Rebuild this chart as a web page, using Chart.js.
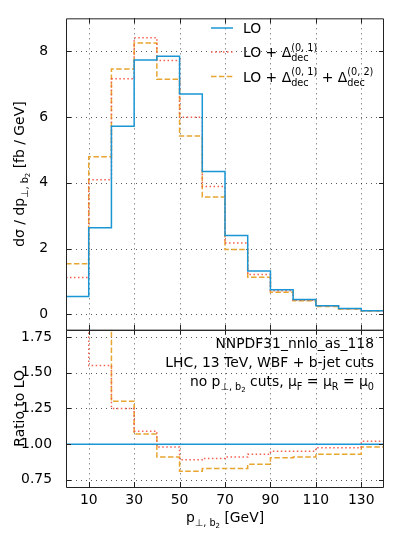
<!DOCTYPE html>
<html>
<head>
<meta charset="utf-8">
<script src="https://cdn.jsdelivr.net/npm/chart.js@4.4.1/dist/chart.umd.min.js"></script>
<style>
  html, body { margin: 0; padding: 0; background: #fff; }
  #wrap { width: 394px; height: 536px; }
</style>
</head>
<body>
<div id="wrap"><canvas id="c" width="394" height="536"></canvas></div>
<script>
// bin edges and tick positions
const binEdges = [0, 10, 20, 30, 40, 50, 60, 70, 80, 90, 100, 110, 120, 130, 140];
const xTicks = [10, 30, 50, 70, 90, 110, 130];
const yTicks = [0, 2, 4, 6, 8];
const ratioTicks = [0.75, 1.00, 1.25, 1.50, 1.75];

// dsigma/dp per bin [fb/GeV]
const lo     = [0.54, 2.63, 5.72, 7.73, 7.85, 6.70, 4.34, 2.40, 1.32, 0.75, 0.45, 0.26, 0.18, 0.11];
const lo01   = [1.12, 4.09, 7.16, 8.41, 7.72, 5.99, 3.89, 2.17, 1.21, 0.72, 0.43, 0.26, 0.17, 0.11];
const lo0102 = [1.54, 4.79, 7.46, 8.25, 7.15, 5.42, 3.57, 1.97, 1.13, 0.67, 0.41, 0.24, 0.16, 0.10];

// ratio to LO
const ratioLO   = [1, 1, 1, 1, 1, 1, 1, 1, 1, 1, 1, 1, 1, 1];
const ratio01   = [2.07, 1.55, 1.25, 1.09, 0.98, 0.89, 0.90, 0.91, 0.93, 0.95, 0.95, 0.975, 0.975, 1.02];
const ratio0102 = [2.85, 1.82, 1.30, 1.07, 0.91, 0.81, 0.83, 0.83, 0.86, 0.905, 0.91, 0.93, 0.93, 0.98];

const BLUE = '#1a96d5';
const RED = '#f4604f';
const ORANGE = '#e8a530';
const FONT = '"DejaVu Sans", sans-serif';
const BASE = 13.9;

function f(s) { return (BASE * s).toFixed(2) + 'px ' + FONT; }

// turn bin values into step points
function steps(vals) {
  return binEdges.map((x, i) => ({ x: x, y: vals[Math.min(i, vals.length - 1)] }));
}

function measure(ctx, runs) {
  let w = 0, held = 0;
  for (const r of runs) {
    ctx.font = f(r.s || 1);
    const rw = ctx.measureText(r.t).width;
    if (r.hold) { held = rw; continue; }
    w += Math.max(rw, held); held = 0;
  }
  return w;
}

function drawRuns(ctx, runs, x, y, align) {
  const w = measure(ctx, runs);
  let cx = align === 'right' ? x - w : align === 'center' ? x - w / 2 : x;
  let held = 0;
  ctx.textAlign = 'left';
  ctx.textBaseline = 'alphabetic';
  for (const r of runs) {
    ctx.font = f(r.s || 1);
    const rw = ctx.measureText(r.t).width;
    ctx.fillText(r.t, cx, y + (r.dy || 0));
    if (r.hold) { held = rw; continue; }
    cx += Math.max(rw, held); held = 0;
  }
}

const pb2 = [{ t: 'p' }, { t: '\u22a5, b', s: 0.7, dy: 3.5 }, { t: '2', s: 0.5, dy: 5.5 }];
const delta = (n) => [{ t: '\u0394' }, { t: 'dec', s: 0.7, dy: 4, hold: true }, { t: '(0, ' + n + ')', s: 0.7, dy: -6.5 }];

const legendRows = [
  { color: BLUE, dash: [], runs: [{ t: 'LO' }] },
  { color: RED, dash: [1.5, 2.5], runs: [{ t: 'LO + ' }].concat(delta(1)) },
  { color: ORANGE, dash: [5.5, 2.4], runs: [{ t: 'LO + ' }].concat(delta(1), [{ t: ' + ' }], delta(2)) }
];

const infoLines = [
  [{ t: 'NNPDF31_nnlo_as_118' }],
  [{ t: 'LHC, 13 TeV, WBF + b-jet cuts' }],
  [{ t: 'no ' }].concat(pb2, [
    { t: ' cuts, \u03bc' }, { t: 'F', s: 0.7, dy: 3.5 },
    { t: ' = \u03bc' }, { t: 'R', s: 0.7, dy: 3.5 },
    { t: ' = \u03bc' }, { t: '0', s: 0.7, dy: 3.5 }
  ])
];

const yTitle = [{ t: 'd\u03c3 / dp' }, { t: '\u22a5, b', s: 0.7, dy: 3.5 }, { t: '2', s: 0.5, dy: 5.5 }, { t: ' [fb / GeV]' }];
const xTitle = pb2.concat([{ t: ' [GeV]' }]);

// clip each dataset to its own panel
const panelClip = {
  id: 'panelClip',
  beforeDatasetDraw(chart, args) {
    const ctx = chart.ctx, xs = args.meta.xScale, ys = args.meta.yScale;
    ctx.save();
    ctx.beginPath();
    ctx.rect(xs.left, ys.top, xs.right - xs.left, ys.bottom - ys.top);
    ctx.clip();
  },
  afterDatasetDraw(chart) {
    chart.ctx.restore();
  }
};

const decor = {
  id: 'decor',
  beforeDraw(chart) {
    const ctx = chart.ctx;
    ctx.save();
    ctx.fillStyle = '#fff';
    ctx.fillRect(0, 0, chart.width, chart.height);
    ctx.restore();
  },
  beforeDatasetsDraw(chart) {
    const ctx = chart.ctx, x = chart.scales.x, y = chart.scales.y, r = chart.scales.ratio;
    ctx.save();
    ctx.strokeStyle = 'rgba(0,0,0,0.65)';
    ctx.lineWidth = 1;
    ctx.setLineDash([1, 4]);
    ctx.beginPath();
    for (const v of xTicks) {
      const px = Math.round(x.getPixelForValue(v)) + 0.5;
      ctx.moveTo(px, y.top); ctx.lineTo(px, r.bottom);
    }
    for (const v of yTicks) {
      const py = Math.round(y.getPixelForValue(v)) + 0.5;
      ctx.moveTo(x.left, py); ctx.lineTo(x.right, py);
    }
    for (const v of ratioTicks) {
      const py = Math.round(r.getPixelForValue(v)) + 0.5;
      ctx.moveTo(x.left, py); ctx.lineTo(x.right, py);
    }
    ctx.stroke();
    ctx.restore();
  },
  afterDatasetsDraw(chart) {
    const ctx = chart.ctx, x = chart.scales.x, y = chart.scales.y, r = chart.scales.ratio;
    ctx.save();
    ctx.strokeStyle = '#222';
    ctx.lineWidth = 1;
    ctx.setLineDash([]);
    const T = 5;
    ctx.beginPath();
    for (const [s, vals] of [[y, yTicks], [r, ratioTicks]]) {
      ctx.rect(x.left + 0.5, s.top + 0.5, x.right - x.left - 1, s.bottom - s.top);
      for (const v of vals) {
        const py = Math.round(s.getPixelForValue(v)) + 0.5;
        ctx.moveTo(x.left, py); ctx.lineTo(x.left + T, py);
        ctx.moveTo(x.right, py); ctx.lineTo(x.right - T, py);
      }
      for (const v of xTicks) {
        const px = Math.round(x.getPixelForValue(v)) + 0.5;
        ctx.moveTo(px, s.top); ctx.lineTo(px, s.top + T);
        ctx.moveTo(px, s.bottom); ctx.lineTo(px, s.bottom - T);
      }
    }
    ctx.stroke();

    // legend
    const rowY = [28, 52, 76.5];
    legendRows.forEach((row, i) => {
      ctx.strokeStyle = row.color;
      ctx.lineWidth = 1.5;
      ctx.setLineDash(row.dash);
      ctx.beginPath();
      ctx.moveTo(211, rowY[i]); ctx.lineTo(233, rowY[i]);
      ctx.stroke();
      ctx.fillStyle = '#000';
      drawRuns(ctx, row.runs, 243, rowY[i] + 5, 'left');
    });
    ctx.setLineDash([]);

    // info text in ratio panel
    ctx.fillStyle = '#000';
    const infoY = [348, 367, 386];
    infoLines.forEach((runs, i) => drawRuns(ctx, runs, 374, infoY[i], 'right'));

    // axis titles
    drawRuns(ctx, xTitle, (x.left + x.right) / 2, 522, 'center');
    ctx.save();
    ctx.translate(24, (y.top + y.bottom) / 2);
    ctx.rotate(-Math.PI / 2);
    drawRuns(ctx, yTitle, 0, 0, 'center');
    ctx.restore();
    ctx.save();
    ctx.translate(24, (r.top + r.bottom) / 2);
    ctx.rotate(-Math.PI / 2);
    drawRuns(ctx, [{ t: 'Ratio to LO' }], 0, 0, 'center');
    ctx.restore();
    ctx.restore();
  }
};

function line(label, vals, color, dash, axis) {
  return {
    label: label,
    data: steps(vals),
    yAxisID: axis,
    borderColor: color,
    borderWidth: 1.5,
    borderDash: dash,
    stepped: 'before',
    fill: false,
    pointRadius: 0,
    clip: false
  };
}

const tickFont = { family: FONT, size: BASE };

new Chart(document.getElementById('c').getContext('2d'), {
  type: 'line',
  data: {
    datasets: [
      line('LO', lo, BLUE, [], 'y'),
      line('LO + d01', lo01, RED, [1.5, 2.5], 'y'),
      line('LO + d01 + d02', lo0102, ORANGE, [5.5, 2.4], 'y'),
      line('LO', ratioLO, BLUE, [], 'ratio'),
      line('LO + d01', ratio01, RED, [1.5, 2.5], 'ratio'),
      line('LO + d01 + d02', ratio0102, ORANGE, [5.5, 2.4], 'ratio')
    ]
  },
  options: {
    responsive: false,
    animation: false,
    layout: { padding: { top: 10, right: 10, left: 0, bottom: 0 } },
    plugins: { legend: { display: false }, tooltip: { enabled: false } },
    scales: {
      x: {
        type: 'linear', min: 0, max: 140,
        afterBuildTicks: s => { s.ticks = xTicks.map(v => ({ value: v })); },
        afterFit: s => { s.height = 49; },
        grid: { display: false },
        border: { display: false },
        ticks: { font: tickFont, color: '#000', padding: -3, maxRotation: 0, autoSkip: false, callback: v => String(v) }
      },
      y: {
        type: 'linear', axis: 'y', position: 'left', stack: 'v', stackWeight: 317, weight: 1,
        min: -0.47, max: 9.0,
        afterBuildTicks: s => { s.ticks = yTicks.map(v => ({ value: v })); },
        afterFit: s => { s.width = 66; },
        grid: { display: false },
        border: { display: false },
        ticks: { font: tickFont, color: '#000', padding: 10, autoSkip: false, callback: v => String(v) }
      },
      ratio: {
        type: 'linear', axis: 'y', position: 'left', stack: 'v', stackWeight: 160, weight: 0,
        min: 0.70, max: 1.80,
        afterBuildTicks: s => { s.ticks = ratioTicks.map(v => ({ value: v })); },
        afterFit: s => { s.width = 66; },
        grid: { display: false },
        border: { display: false },
        ticks: { font: tickFont, color: '#000', padding: 6, autoSkip: false, callback: v => Number(v).toFixed(2) }
      }
    }
  },
  plugins: [panelClip, decor]
});
</script>
</body>
</html>
